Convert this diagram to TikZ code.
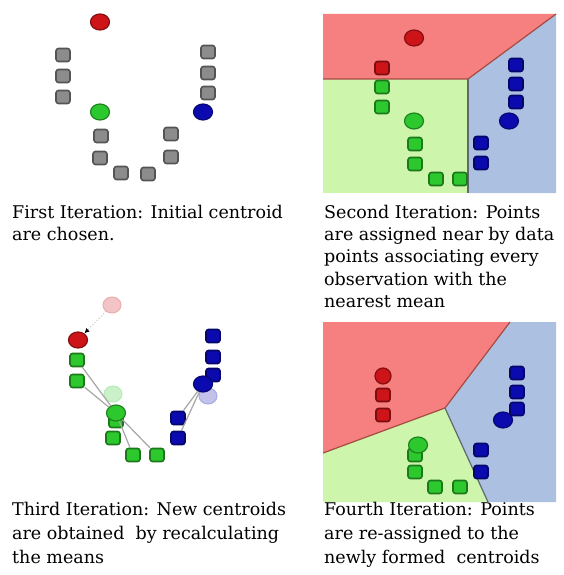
\documentclass[tikz,border=0pt]{standalone}
\usepackage{fontspec}
\setmainfont{DejaVu Serif}
\usetikzlibrary{arrows.meta,shapes.geometric}

\definecolor{cred}{RGB}{205,20,25}
\definecolor{cgreen}{RGB}{45,200,45}
\definecolor{cblue}{RGB}{10,10,175}
\definecolor{cgray}{RGB}{140,140,140}
\definecolor{regred}{RGB}{246,128,128}
\definecolor{reggreen}{RGB}{205,245,172}
\definecolor{regblue}{RGB}{172,192,226}
\definecolor{lnred}{RGB}{165,75,65}
\definecolor{lngray}{RGB}{95,105,110}

\tikzset{
  pt/.style={draw=#1!60!black, fill=#1, line width=1.6pt, rounded corners=2.5pt,
    minimum width=14pt, minimum height=13pt, inner sep=0pt},
  cen/.style={ellipse, draw=#1!65!black, fill=#1, line width=1.2pt,
    minimum width=19pt, minimum height=16pt, inner sep=0pt},
  oldcen/.style={ellipse, draw=#1!35!white, fill=#1!25!white, line width=1pt,
    minimum width=18pt, minimum height=16pt, inner sep=0pt},
  caption/.style={anchor=north west, align=left, inner sep=0pt,
    font=\fontsize{17.5}{22.2}\selectfont},
}

\begin{document}
\begin{tikzpicture}[x=1pt, y=-1pt]
	\useasboundingbox (0,0) rectangle (563,575);

	% first iteration
	\node[cen=cred] (r1) at (100,22) {};
	\node[cen=cgreen] (g1) at (100,112) {};
	\node[cen=cblue] (b1) at (203,112) {};
	\foreach \n/\p in {a/{63,55}, b/{63,76}, c/{63,97}, d/{208,52}, e/{208,73}, f/{208,93},
	                   g/{101,136}, h/{100,158}, i/{121,173}, j/{148,174}, k/{171,134}, l/{171,157}}
		\node[pt=cgray] (s1\n) at (\p) {};
	\node[caption] (cap1) at (12,205) {First Iteration: Initial centroid\\are chosen.};

	% second iteration
	\fill[regred] (323,14) -- (556,14) -- (468,79) -- (323,79) -- cycle;
	\fill[reggreen] (323,79) -- (468,79) -- (468,193) -- (323,193) -- cycle;
	\fill[regblue] (468,79) -- (556,14) -- (556,193) -- (468,193) -- cycle;
	\draw[lnred, line width=1.2pt] (323,79) -- (468,79) -- (556,14);
	\draw[lngray, line width=1.2pt] (468,79) -- (468,193);
	\node[cen=cred] (r2) at (414,38) {};
	\node[pt=cred] (r2a) at (382,68) {};
	\node[cen=cgreen] (g2) at (414,121) {};
	\foreach \n/\p in {a/{382,87}, b/{382,107}, c/{415,144}, d/{415,164}, e/{436,179}, f/{460,179}}
		\node[pt=cgreen] (g2\n) at (\p) {};
	\node[cen=cblue] (b2) at (509,121) {};
	\foreach \n/\p in {a/{516,65}, b/{516,84}, c/{516,102}, d/{481,143}, e/{481,163}}
		\node[pt=cblue] (b2\n) at (\p) {};
	\node[caption] (cap2) at (324,205) {Second Iteration: Points\\are assigned near by data\\points associating every\\observation with the\\nearest mean};

	% third iteration
	\node[oldcen=cred] (r3old) at (112,305) {};
	\node[oldcen=cgreen] (g3old) at (113,394) {};
	\node[oldcen=cblue] (b3old) at (208,396) {};
	\node[cen=cred] (r3) at (78,340) {};
	\draw[gray!45, dotted, line width=1pt, -{Latex[black,length=5pt,width=5pt]}] (r3old) -- (r3);
	\foreach \n/\p in {a/{77,360}, b/{77,381}, c/{116,421}, d/{113,438}, e/{133,455}, f/{157,455}}
		\node[pt=cgreen] (g3\n) at (\p) {};
	\node[cen=cgreen] (g3) at (116,413) {};
	\foreach \n/\p in {a/{213,336}, b/{213,357}, c/{213,375}, d/{178,418}, e/{178,438}}
		\node[pt=cblue] (b3\n) at (\p) {};
	\node[cen=cblue] (b3) at (203,384) {};
	\draw[gray!70, line width=1.2pt] (g3a) -- (g3) (g3b) -- (g3) (g3) -- (g3e) (g3) -- (g3f);
	\draw[gray!70, line width=1.2pt] (b3d) -- (b3) (b3e) -- (b3);
	\node[caption, font=\fontsize{17.5}{24}\selectfont] (cap3) at (12,502) {Third Iteration: New centroids\\are obtained\ \ by recalculating\\the means};

	% fourth iteration
	\fill[regred] (323,322) -- (510,322) -- (445,408) -- (323,453) -- cycle;
	\fill[reggreen] (323,453) -- (445,408) -- (488,502) -- (323,502) -- cycle;
	\fill[regblue] (510,322) -- (556,322) -- (556,502) -- (488,502) -- (445,408) -- cycle;
	\draw[lnred, line width=1.2pt] (323,453) -- (445,408) -- (510,322);
	\draw[lngray, line width=1.2pt] (445,408) -- (488,502);
	\node[cen=cred, minimum width=16pt] (r4) at (383,376) {};
	\foreach \n/\p in {a/{383,395}, b/{383,415}}
		\node[pt=cred] (r4\n) at (\p) {};
	\foreach \n/\p in {a/{415,455}, b/{415,472}, c/{435,487}, d/{460,487}}
		\node[pt=cgreen] (g4\n) at (\p) {};
	\node[cen=cgreen] (g4) at (418,445) {};
	\foreach \n/\p in {a/{517,373}, b/{517,392}, c/{517,409}, d/{481,450}, e/{481,472}}
		\node[pt=cblue] (b4\n) at (\p) {};
	\node[cen=cblue] (b4) at (503,420) {};
	\node[caption, font=\fontsize{17.5}{24}\selectfont] (cap4) at (324,502) {Fourth Iteration: Points\\are re-assigned to the\\newly formed\ \ centroids};
\end{tikzpicture}
\end{document}
